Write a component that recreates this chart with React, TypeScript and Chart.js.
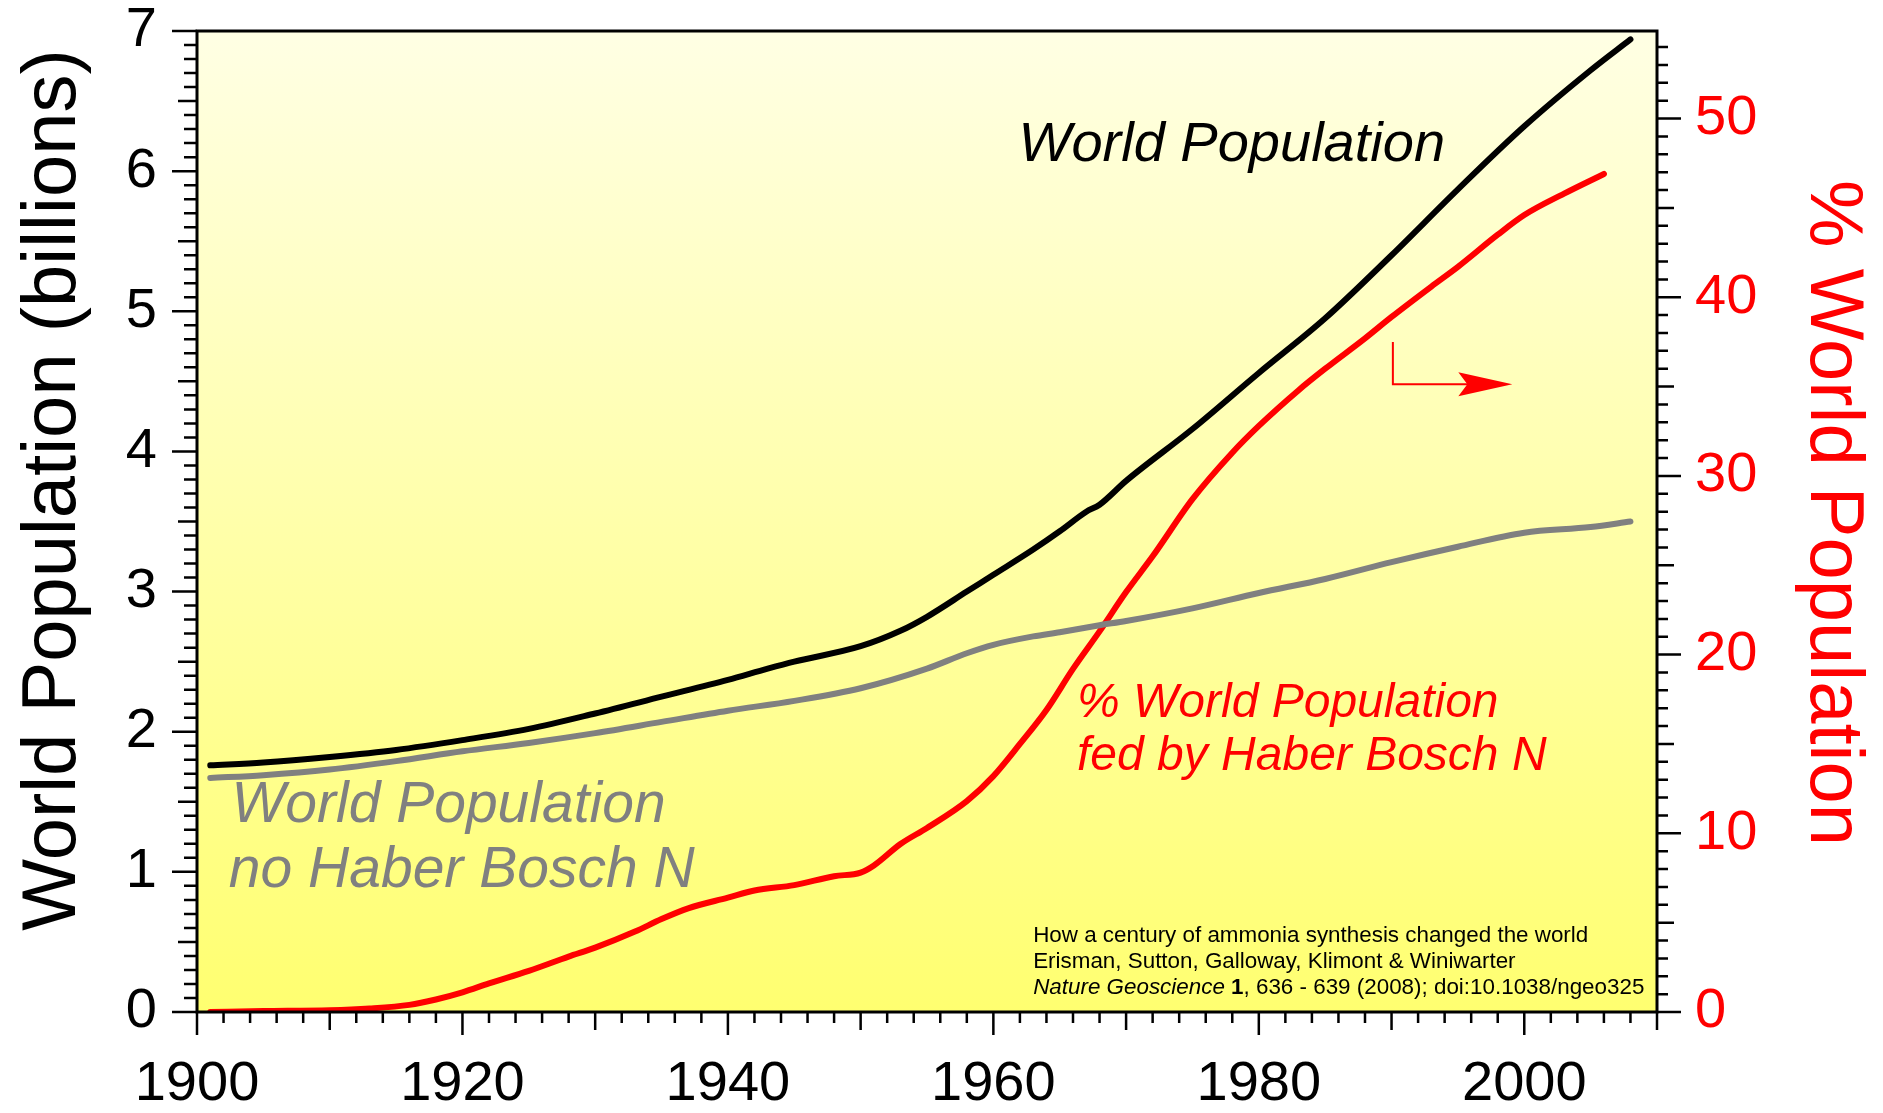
import React, { useEffect, useRef } from 'react';
import { Chart, registerables } from 'chart.js';

Chart.register(...registerables);

// ---- data ----
const popYears = [1901, 1905, 1910, 1915, 1920, 1925, 1930, 1935, 1940, 1943, 1945, 1950, 1953, 1955, 1958, 1960, 1963, 1965, 1967, 1968, 1970, 1975, 1980, 1985, 1990, 1995, 2000, 2005, 2008];
const popValues = [1.76, 1.78, 1.82, 1.87, 1.94, 2.02, 2.13, 2.25, 2.37, 2.45, 2.50, 2.61, 2.72, 2.82, 3.00, 3.12, 3.30, 3.43, 3.57, 3.62, 3.79, 4.16, 4.56, 4.95, 5.40, 5.87, 6.32, 6.72, 6.94];

const noHbYears = [1901, 1905, 1910, 1915, 1920, 1925, 1930, 1935, 1940, 1945, 1950, 1955, 1958, 1960, 1963, 1965, 1968, 1970, 1975, 1980, 1985, 1990, 1995, 2000, 2005, 2008];
const noHbValues = [1.67, 1.69, 1.73, 1.79, 1.86, 1.92, 1.99, 2.07, 2.15, 2.22, 2.31, 2.45, 2.56, 2.62, 2.68, 2.71, 2.76, 2.79, 2.88, 2.99, 3.09, 3.21, 3.32, 3.42, 3.46, 3.50];

const hbYears = [1901, 1905, 1910, 1913, 1916, 1918, 1920, 1922, 1925, 1928, 1930, 1933, 1935, 1937, 1940, 1942, 1945, 1948, 1950, 1951, 1953, 1955, 1958, 1960, 1962, 1964, 1966, 1968, 1970, 1972, 1975, 1978, 1980, 1983, 1985, 1988, 1990, 1993, 1995, 1998, 2000, 2003, 2006];
const hbValues = [0, 0.05, 0.1, 0.2, 0.4, 0.7, 1.1, 1.6, 2.3, 3.1, 3.6, 4.5, 5.2, 5.8, 6.4, 6.8, 7.1, 7.6, 7.8, 8.2, 9.4, 10.3, 11.8, 13.2, 15.0, 16.9, 19.2, 21.3, 23.5, 25.5, 28.7, 31.3, 32.8, 34.8, 36.0, 37.7, 38.9, 40.6, 41.7, 43.5, 44.6, 45.8, 46.9];

const xTickLabels = [1900, 1920, 1940, 1960, 1980, 2000];
const leftTickLabels = [0, 1, 2, 3, 4, 5, 6, 7];
const rightTickLabels = [0, 10, 20, 30, 40, 50];

const citation = [
  'How a century of ammonia synthesis changed the world',
  'Erisman, Sutton, Galloway, Klimont & Winiwarter',
];

const FONT = "'Liberation Sans', Arial, Helvetica, sans-serif";

function toPts(xs: number[], ys: number[]) {
  return xs.map((x, i) => ({ x, y: ys[i] }));
}

const decorPlugin = {
  id: 'decor',
  beforeDatasetsDraw(chart: any) {
    const { ctx, chartArea: a } = chart;
    const g = ctx.createLinearGradient(0, a.top, 0, a.bottom);
    g.addColorStop(0, 'rgb(255,255,228)');
    g.addColorStop(1, 'rgb(255,255,112)');
    ctx.save();
    ctx.fillStyle = g;
    ctx.fillRect(a.left, a.top, a.right - a.left, a.bottom - a.top);
    ctx.restore();
  },
  afterDatasetsDraw(chart: any) {
    const { ctx, chartArea: a, scales } = chart;
    const xs = scales.x, yl = scales.y, yr = scales.y2;
    ctx.save();
    // frame
    ctx.strokeStyle = '#000';
    ctx.lineWidth = 3;
    ctx.strokeRect(a.left, a.top, a.right - a.left, a.bottom - a.top);

    // ticks
    ctx.lineWidth = 2.5;
    ctx.beginPath();
    for (let i = 0; i <= 70; i++) {
      const v = i / 10;
      const y = yl.getPixelForValue(v);
      const len = i % 10 === 0 ? 25 : i % 5 === 0 ? 19 : 13;
      ctx.moveTo(a.left, y);
      ctx.lineTo(a.left - len, y);
    }
    for (let v = 0; v <= 54; v++) {
      const y = yr.getPixelForValue(v);
      const len = v % 10 === 0 ? 24 : v % 5 === 0 ? 17 : 11;
      ctx.moveTo(a.right, y);
      ctx.lineTo(a.right + len, y);
    }
    for (let yr0 = 1900; yr0 <= 2010; yr0 += 2) {
      const x = xs.getPixelForValue(yr0);
      const len = (yr0 - 1900) % 20 === 0 ? 23 : (yr0 - 1900) % 10 === 0 ? 18 : 11;
      ctx.moveTo(x, a.bottom);
      ctx.lineTo(x, a.bottom + len);
    }
    ctx.stroke();

    // axis titles
    ctx.fillStyle = '#000';
    ctx.font = `76px ${FONT}`;
    ctx.textAlign = 'center';
    ctx.textBaseline = 'alphabetic';
    ctx.save();
    ctx.translate(75, 490);
    ctx.rotate(-Math.PI / 2);
    ctx.fillText('World Population (billions)', 0, 0);
    ctx.restore();

    ctx.fillStyle = '#ff0000';
    ctx.save();
    ctx.translate(1811, 513);
    ctx.rotate(Math.PI / 2);
    ctx.fillText('% World Population', 0, 0);
    ctx.restore();

    // series labels
    ctx.textAlign = 'left';
    ctx.fillStyle = '#000';
    ctx.font = `italic 56px ${FONT}`;
    ctx.fillText('World Population', xs.getPixelForValue(1961.9), yl.getPixelForValue(6.07));

    ctx.fillStyle = '#808080';
    ctx.font = `italic 57px ${FONT}`;
    ctx.fillText('World Population', xs.getPixelForValue(1902.6), yl.getPixelForValue(1.357));
    ctx.fillText('no Haber Bosch N', xs.getPixelForValue(1902.4), yl.getPixelForValue(0.893));

    ctx.fillStyle = '#ff0000';
    ctx.font = `italic 48px ${FONT}`;
    ctx.fillText('% World Population', xs.getPixelForValue(1966.3), yl.getPixelForValue(2.107));
    ctx.fillText('fed by Haber Bosch N', xs.getPixelForValue(1966.3), yl.getPixelForValue(1.729));

    // arrow
    const ax = xs.getPixelForValue(1990.1);
    const ayTop = yl.getPixelForValue(4.78);
    const ay = yl.getPixelForValue(4.48);
    const tipX = xs.getPixelForValue(1999.1);
    ctx.strokeStyle = '#ff0000';
    ctx.lineWidth = 2;
    ctx.beginPath();
    ctx.moveTo(ax, ayTop);
    ctx.lineTo(ax, ay);
    ctx.lineTo(tipX - 40, ay);
    ctx.stroke();
    ctx.beginPath();
    ctx.moveTo(tipX, ay);
    ctx.lineTo(tipX - 54, ay - 12);
    ctx.lineTo(tipX - 45, ay);
    ctx.lineTo(tipX - 54, ay + 12);
    ctx.closePath();
    ctx.fill();

    // citation
    ctx.fillStyle = '#000';
    const cx = xs.getPixelForValue(1963.0);
    ctx.font = `22.4px ${FONT}`;
    ctx.fillText(citation[0], cx, 942);
    ctx.fillText(citation[1], cx, 968);
    let px = cx;
    const segs: [string, string][] = [
      ['Nature Geoscience', 'italic 22.4px'],
      [' 1', 'bold 22.4px'],
      [', 636 - 639 (2008); doi:10.1038/ngeo325', '22.4px'],
    ];
    for (const [t, f] of segs) {
      ctx.font = `${f} ${FONT}`;
      ctx.fillText(t, px, 994);
      px += ctx.measureText(t).width;
    }
    ctx.restore();
  },
};

export default function App() {
  const ref = useRef<HTMLCanvasElement | null>(null);
  useEffect(() => {
    if (!ref.current) return;
    const tickFont = { size: 56, family: FONT };
    const common = {
      cubicInterpolationMode: 'monotone',
      borderCapStyle: 'round',
      borderJoinStyle: 'round',
      borderWidth: 6,
      pointRadius: 0,
    };
    const chart = new Chart(ref.current, {
      type: 'line',
      data: {
        datasets: [
          { ...common, data: toPts(popYears, popValues), borderColor: '#000000', yAxisID: 'y' },
          { ...common, data: toPts(noHbYears, noHbValues), borderColor: '#808080', yAxisID: 'y' },
          { ...common, data: toPts(hbYears, hbValues), borderColor: '#ff0000', yAxisID: 'y2' },
        ],
      },
      options: {
        animation: false,
        responsive: false,
        layout: { padding: { top: 31, left: 0, right: 0, bottom: 0 } },
        plugins: { legend: { display: false }, tooltip: { enabled: false } },
        scales: {
          x: {
            type: 'linear',
            min: 1900,
            max: 2010,
            position: 'bottom',
            grid: { display: false, drawTicks: false },
            border: { display: false },
            afterBuildTicks: (s: any) => { s.ticks = xTickLabels.map((v) => ({ value: v })); },
            ticks: { padding: 39, font: tickFont, color: '#000', maxRotation: 0, autoSkip: false, callback: (v: any) => String(v) },
            afterFit: (s: any) => { s.height = 101; s.paddingLeft = 0; s.paddingRight = 0; },
          },
          y: {
            type: 'linear',
            position: 'left',
            min: 0,
            max: 7,
            grid: { display: false, drawTicks: false },
            border: { display: false },
            afterBuildTicks: (s: any) => { s.ticks = leftTickLabels.map((v) => ({ value: v })); },
            ticks: { padding: 40, font: tickFont, color: '#000', autoSkip: false, callback: (v: any) => String(v) },
            afterFit: (s: any) => { s.width = 197; s.paddingTop = 0; s.paddingBottom = 0; },
          },
          y2: {
            type: 'linear',
            position: 'right',
            min: 0,
            max: 54.9,
            grid: { display: false, drawTicks: false },
            border: { display: false },
            afterBuildTicks: (s: any) => { s.ticks = rightTickLabels.map((v) => ({ value: v })); },
            ticks: { padding: 38, font: tickFont, color: '#ff0000', autoSkip: false, callback: (v: any) => String(v) },
            afterFit: (s: any) => { s.width = 226; s.paddingTop = 0; s.paddingBottom = 0; },
          },
        },
      },
      plugins: [decorPlugin],
    } as any);
    return () => chart.destroy();
  }, []);
  return (
    <div style={{ position: 'fixed', left: 0, top: 0, width: 1883, height: 1113, background: '#fff' }}>
      <canvas ref={ref} width={1883} height={1113} style={{ display: 'block' }} />
    </div>
  );
}
